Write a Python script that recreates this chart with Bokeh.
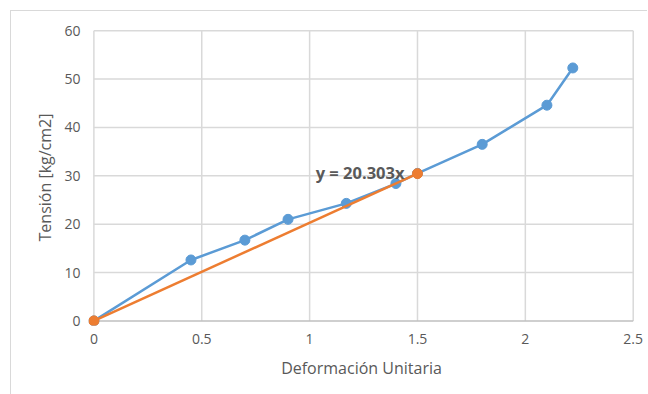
from bokeh.plotting import figure
from bokeh.models import FixedTicker, ColumnDataSource, Label
from bokeh.embed import file_html
from bokeh.resources import INLINE

# Data
strain = [0, 0.45, 0.70, 0.90, 1.17, 1.40, 1.50, 1.80, 2.10, 2.22]
stress = [0, 12.6, 16.7, 21.0, 24.3, 28.4, 30.5, 36.5, 44.6, 52.3]
trend_x = [0, 1.5]
trend_y = [0, 30.45]
trend_label = "y = 20.303x"
x_ticks = [0, 0.5, 1, 1.5, 2, 2.5]
y_ticks = [0, 10, 20, 30, 40, 50, 60]

FONT = "Open Sans"
GREY = "#595959"
GRID = "#d9d9d9"

p = figure(width=637, height=384, output_backend="svg", toolbar_location=None,
           x_range=(-0.025, 2.506), y_range=(-0.95, 60.25),
           min_border_left=77, min_border_right=14, min_border_top=18, min_border_bottom=70)
p.margin = (10, 0, 0, 10)
p.styles = {"border-left": "1px solid #d9d9d9", "border-top": "1px solid #d9d9d9"}

p.outline_line_color = None
p.background_fill_color = "white"
p.border_fill_color = "white"

p.xaxis.ticker = FixedTicker(ticks=x_ticks)
p.yaxis.ticker = FixedTicker(ticks=y_ticks)
p.xaxis.major_label_overrides = {0: "0", 1: "1", 2: "2"}

for ax in (p.xaxis[0], p.yaxis[0]):
    ax.major_tick_line_color = None
    ax.minor_tick_line_color = None
    ax.major_label_text_font = FONT
    ax.major_label_text_font_size = "14px"
    ax.major_label_text_color = GREY
    ax.axis_label_text_font = FONT
    ax.axis_label_text_font_size = "16px"
    ax.axis_label_text_font_style = "normal"
    ax.axis_label_text_color = GREY

p.xaxis.axis_line_color = None
p.yaxis.axis_line_color = None
p.xaxis.major_label_standoff = 2
p.yaxis.major_label_standoff = 2
p.xaxis.axis_label = "Deformación Unitaria"
p.yaxis.axis_label = "Tensión [kg/cm2]"
p.xaxis.axis_label_standoff = 10
p.yaxis.axis_label_standoff = 5

# gridlines drawn only across the 0..max data area
p.xgrid.grid_line_color = None
p.ygrid.grid_line_color = None
p.segment(x0=x_ticks, y0=[y_ticks[0]] * len(x_ticks), x1=x_ticks, y1=[y_ticks[-1]] * len(x_ticks),
          line_color=GRID, line_width=1.5)
p.segment(x0=[x_ticks[0]] * len(y_ticks), y0=y_ticks, x1=[x_ticks[-1]] * len(y_ticks), y1=y_ticks,
          line_color=[("#bfbfbf" if v == 0 else GRID) for v in y_ticks], line_width=1.5)

src = ColumnDataSource(dict(x=strain, y=stress))
p.line("x", "y", source=src, line_color="#5B9BD5", line_width=2.5)
p.scatter("x", "y", source=src, size=10, fill_color="#5B9BD5", line_color="#5B9BD5")

tsrc = ColumnDataSource(dict(x=trend_x, y=trend_y))
p.line("x", "y", source=tsrc, line_color="#ED7D31", line_width=2.5)
p.scatter("x", "y", source=tsrc, size=10, fill_color="#ED7D31", line_color="#ED7D31")

p.add_layout(Label(x=trend_x[1], y=trend_y[1], text=trend_label, x_offset=-13, y_offset=1,
                   text_align="right", text_baseline="middle",
                   text_font=FONT, text_font_size="16.5px", text_font_style="bold",
                   text_color=GREY))

open("out.html", "w").write(file_html(p, INLINE))
